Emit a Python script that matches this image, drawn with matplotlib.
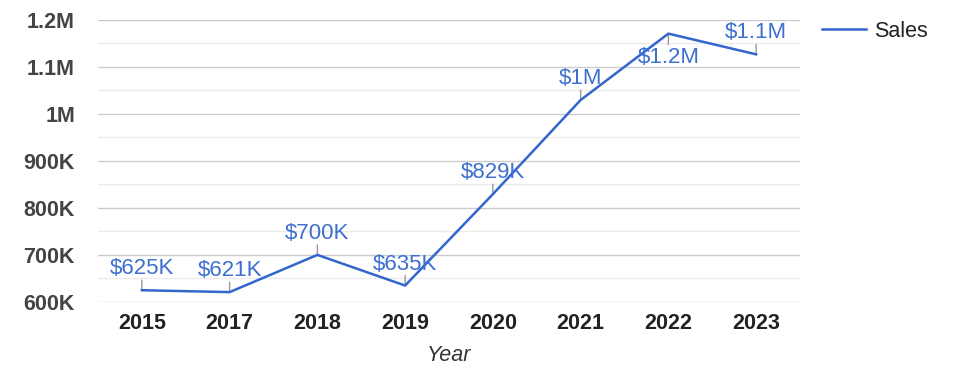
import matplotlib
matplotlib.use("Agg")
import matplotlib.pyplot as plt
from matplotlib.ticker import FixedLocator

years = ["2015", "2017", "2018", "2019", "2020", "2021", "2022", "2023"]
sales = [625000, 621000, 700000, 635000, 829000, 1029000, 1170000, 1126000]
labels = ["$625K", "$621K", "$700K", "$635K", "$829K", "$1M", "$1.2M", "$1.1M"]
label_below = [False, False, False, False, False, False, True, False]
yticks = [600000, 700000, 800000, 900000, 1000000, 1100000, 1200000]
ytick_labels = ["600K", "700K", "800K", "900K", "1M", "1.1M", "1.2M"]

plt.rcParams['font.family'] = ['Liberation Sans', 'DejaVu Sans']
FS = 15.5
LINE = '#3366cc'
LABEL = '#3d6fd0'

fig = plt.figure(figsize=(9.75, 3.78), dpi=100)
ax = fig.add_axes([98/975, 1-302/378, (800-98)/975, (302-19.5)/378])

x = list(range(len(years)))
ax.plot(x, sales, color=LINE, lw=1.8, label='Sales', zorder=3)

ax.set_xlim(-0.5, len(years)-0.5)
ax.set_ylim(600000, 1200000)
ax.yaxis.set_major_locator(FixedLocator(yticks))
ax.set_yticklabels(ytick_labels)
ax.set_yticks([650000, 750000, 850000, 950000, 1050000, 1150000], minor=True)
ax.set_xticks(x)
ax.set_xticklabels(years)

ax.grid(axis='y', which='major', color='#cccccc', lw=1, zorder=0)
ax.grid(axis='y', which='minor', color='#ebebeb', lw=1, zorder=0)
for s in ax.spines.values():
    s.set_visible(False)
ax.tick_params(axis='both', which='both', length=0)
ax.tick_params(axis='y', pad=16.5, labelsize=FS, labelcolor='#444444')
ax.tick_params(axis='x', pad=8, labelsize=FS, labelcolor='#222222')
for t in ax.get_yticklabels() + ax.get_xticklabels():
    t.set_fontweight('bold')

ax.set_xlabel('Year', fontsize=FS, style='italic', color='#333333', labelpad=8)

for xi, v, lab, below in zip(x, sales, labels, label_below):
    d = -11 if below else 10
    ax.annotate('', xy=(xi, v), xytext=(0, d), textcoords='offset pixels',
                arrowprops=dict(arrowstyle='-', color='#999999', lw=1,
                                shrinkA=0, shrinkB=0), zorder=2)
    if below:
        ax.annotate(lab, xy=(xi, v), xytext=(0, -13), textcoords='offset pixels',
                    ha='center', va='top', fontsize=FS + 0.5, color=LABEL,
                    annotation_clip=False, zorder=4)
    else:
        ax.annotate(lab, xy=(xi, v), xytext=(0, 16), textcoords='offset pixels',
                    ha='center', va='baseline', fontsize=FS + 0.5, color=LABEL,
                    annotation_clip=False, zorder=4)

leg = ax.legend(loc='upper left', bbox_to_anchor=(822/975, 1-21/378),
                bbox_transform=fig.transFigure, frameon=False, fontsize=FS,
                handlelength=2.05, handletextpad=0.37, borderpad=0,
                borderaxespad=0)
for t in leg.get_texts():
    t.set_color('#222222')

fig.savefig('out.png', dpi=100)
